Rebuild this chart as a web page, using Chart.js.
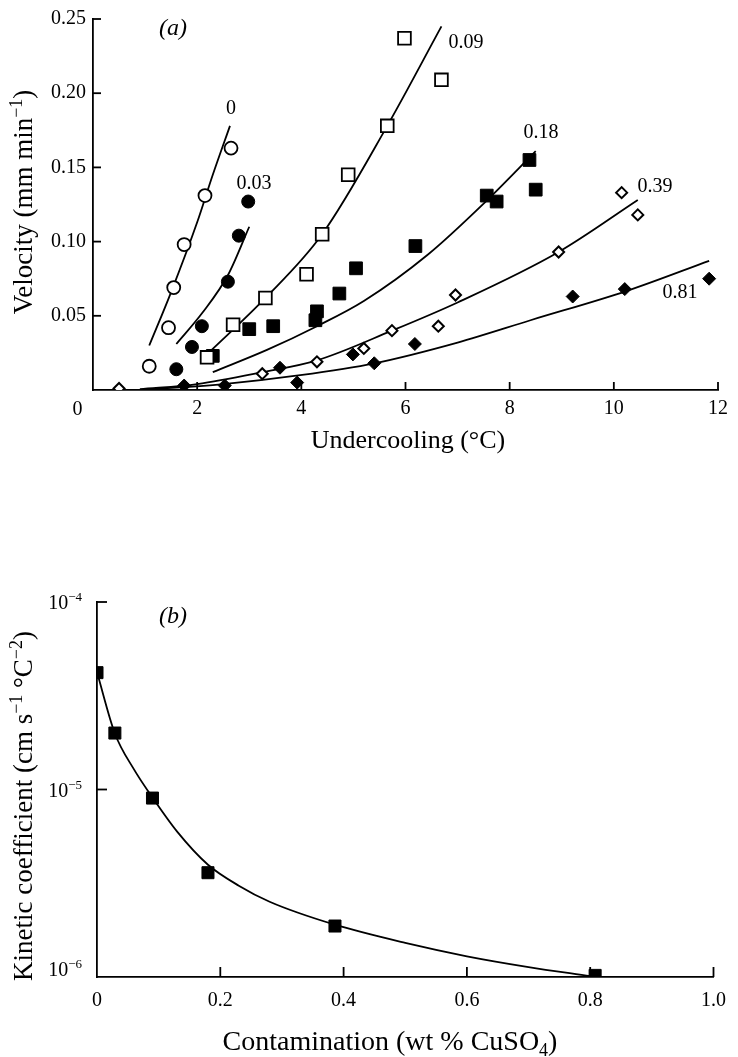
<!DOCTYPE html>
<html><head><meta charset="utf-8">
<script src="https://cdn.jsdelivr.net/npm/chart.js@4.4.1/dist/chart.umd.min.js"></script>
<style>
html,body{margin:0;padding:0;background:#fff;}
#wa{position:absolute;left:0;top:0;width:738px;height:460px;}
#wb{position:absolute;left:0;top:540px;width:738px;height:517px;}
</style></head><body>
<div id="wa"><canvas id="ca"></canvas></div>
<div id="wb"><canvas id="cb"></canvas></div>
<script>
const FONT = '"Liberation Serif", "Times New Roman", serif';

// ---------- Panel (a): velocity vs undercooling ----------
const undercoolingTicks = [0, 2, 4, 6, 8, 10, 12];
const velocityTicks = [0.05, 0.10, 0.15, 0.20, 0.25];
const seriesLabels = ['0', '0.03', '0.09', '0.18', '0.39', '0.81'];

// measured points
const c000x = [1.08, 1.45, 1.55, 1.75, 2.15, 2.65];
const c000y = [0.016, 0.042, 0.069, 0.098, 0.131, 0.163];
const c003x = [1.60, 1.90, 2.09, 2.59, 2.80, 2.98];
const c003y = [0.014, 0.029, 0.043, 0.073, 0.104, 0.127];
const c009x = [2.19, 2.69, 3.31, 4.10, 4.40, 4.90, 5.65, 5.98, 6.69];
const c009y = [0.022, 0.044, 0.062, 0.078, 0.105, 0.145, 0.178, 0.237, 0.209];
const c018x = [2.30, 3.00, 3.46, 4.27, 4.30, 4.73, 5.05, 6.19, 7.56, 7.75, 8.38, 8.50];
const c018y = [0.023, 0.041, 0.043, 0.047, 0.053, 0.065, 0.082, 0.097, 0.131, 0.127, 0.155, 0.135];
const c039x = [0.50, 3.25, 4.30, 5.20, 5.74, 6.63, 6.96, 8.94, 10.15, 10.46];
const c039y = [0.001, 0.011, 0.019, 0.028, 0.040, 0.043, 0.064, 0.093, 0.133, 0.118];
const c081x = [1.75, 2.53, 3.59, 3.92, 4.99, 5.40, 6.18, 9.21, 10.21, 11.83];
const c081y = [0.003, 0.003, 0.015, 0.005, 0.024, 0.018, 0.031, 0.063, 0.068, 0.075];

// fitted curves
const f000x = [1.08, 1.5, 2.0, 2.3, 2.63];
const f000y = [0.030, 0.066, 0.113, 0.145, 0.178];
const f003x = [1.6, 2.1, 2.6, 3.0];
const f003y = [0.031, 0.052, 0.078, 0.110];
const f009x = [2.19, 3.31, 4.4, 5.65, 6.69];
const f009y = [0.024, 0.062, 0.105, 0.178, 0.245];
const f018x = [2.3, 3.34, 4.3, 5.2, 6.42, 7.54, 8.5];
const f018y = [0.012, 0.027, 0.043, 0.060, 0.091, 0.127, 0.161];
const f039x = [0.9, 2.0, 3.25, 4.3, 5.74, 7.0, 8.94, 10.46];
const f039y = [0.0005, 0.004, 0.012, 0.020, 0.040, 0.059, 0.093, 0.128];
const f081x = [0.9, 2.5, 3.98, 5.4, 7.0, 8.4, 10.27, 11.83];
const f081y = [0.0, 0.004, 0.010, 0.018, 0.032, 0.047, 0.067, 0.087];

// curve label positions (data coords)
const labelX = [2.65, 3.09, 7.16, 8.60, 10.79, 11.27];
const labelY = [0.1893, 0.1387, 0.2343, 0.1733, 0.1367, 0.0653];

// ---------- Panel (b): kinetic coefficient vs contamination ----------
const contamTicks = [0, 0.2, 0.4, 0.6, 0.8, 1.0];
const kineticTicks = [1e-6, 1e-5, 1e-4];
const kineticTickExp = ['−6', '−5', '−4'];
const contam = [0.0, 0.029, 0.09, 0.18, 0.386, 0.808];
const kinetic = [4.2e-5, 2.0e-5, 9.0e-6, 3.6e-6, 1.87e-6, 1.02e-6];
const fitCx = [0, 0.029, 0.06, 0.09, 0.13, 0.18, 0.23, 0.28, 0.386, 0.5, 0.6, 0.7, 0.8];
const fitCy = [4.22e-5, 1.99e-5, 1.28e-5, 9.06e-6, 5.96e-6, 3.97e-6, 3.07e-6, 2.52e-6, 1.90e-6, 1.52e-6, 1.29e-6, 1.13e-6, 1.01e-6];

const pts = (xs, ys) => xs.map((x, i) => ({x, y: ys[i]}));

function drawRich(ctx, parts, x, y, size, rot, italic, align) {
  ctx.save();
  ctx.translate(x, y);
  if (rot) ctx.rotate(rot);
  const fontOf = k => (italic ? 'italic ' : '') + (k ? Math.round(size * 0.65) : size) + 'px ' + FONT;
  let total = 0; const ws = [];
  for (const [t, k] of parts) { ctx.font = fontOf(k); const w = ctx.measureText(t).width; ws.push(w); total += w; }
  let cx = align === 'right' ? -total : (align === 'left' ? 0 : -total / 2);
  ctx.textBaseline = 'alphabetic'; ctx.textAlign = 'left'; ctx.fillStyle = '#000';
  parts.forEach(([t, k], i) => {
    ctx.font = fontOf(k);
    const dy = k === 'sup' ? -size * 0.38 : (k === 'sub' ? size * 0.2 : 0);
    ctx.fillText(t, cx, dy);
    cx += ws[i];
  });
  ctx.restore();
}

const decor = {
  id: 'decor',
  afterDatasetsDraw(chart, args, opts) {
    const ctx = chart.ctx, xs = chart.scales.x, ys = chart.scales.y;
    ctx.save();
    ctx.strokeStyle = '#000'; ctx.lineWidth = 1.8;
    const b = chart.chartArea.bottom, l = chart.chartArea.left;
    (opts.xTickVals || []).forEach(v => {
      const p = xs.getPixelForValue(v);
      ctx.beginPath(); ctx.moveTo(p, b); ctx.lineTo(p, b - opts.len); ctx.stroke();
    });
    (opts.yTickVals || []).forEach(v => {
      const p = ys.getPixelForValue(v);
      ctx.beginPath(); ctx.moveTo(l, p); ctx.lineTo(l + opts.len, p); ctx.stroke();
    });
    ctx.restore();
    (opts.dataLabels || []).forEach(d => {
      ctx.save();
      ctx.font = d.size + 'px ' + FONT; ctx.fillStyle = '#000';
      ctx.textAlign = 'center'; ctx.textBaseline = 'middle';
      ctx.fillText(d.text, xs.getPixelForValue(d.x), ys.getPixelForValue(d.y));
      ctx.restore();
    });
    (opts.powerLabels || []).forEach(d => {
      let p = ys.getPixelForValue(d.value);
      if (p > b - 4) p -= 8; // keep the lowest label clear of the x axis
      drawRich(ctx, [['10', ''], [d.exp, 'sup']], l - 15, p + 7, 20, 0, false, 'right');
    });
    (opts.texts || []).forEach(t => drawRich(ctx, t.parts, t.x, t.y, t.size, t.rot || 0, t.italic, t.align));
  }
};

const axisBase = (extra) => Object.assign({
  grid: {display: true, drawOnChartArea: false, drawTicks: false},
  border: {display: true, color: '#000', width: 1.8},
}, extra);

const tickFont = {family: FONT, size: 20};

const openStyle = (style, r, bw) => ({pointStyle: style, pointRadius: r, pointHoverRadius: r, backgroundColor: '#fff', borderColor: '#000', pointBorderWidth: bw, showLine: false});
const fillStyle = (style, r) => ({pointStyle: style, pointRadius: r, pointHoverRadius: r, backgroundColor: '#000', borderColor: '#000', pointBorderWidth: 1, showLine: false});
const lineStyle = () => ({showLine: true, pointRadius: 0, borderColor: '#000', borderWidth: 1.8, cubicInterpolationMode: 'monotone', fill: false});

// ---------- chart (a) ----------
new Chart(document.getElementById('ca'), {
  type: 'scatter',
  data: {datasets: [
    Object.assign({label: '0 pts', data: pts(c000x, c000y)}, openStyle('circle', 6.5, 1.8)),
    Object.assign({label: '0.03 pts', data: pts(c003x, c003y)}, fillStyle('circle', 6.5)),
    Object.assign({label: '0.09 pts', data: pts(c009x, c009y)}, openStyle('rect', 9, 1.8)),
    Object.assign({label: '0.18 pts', data: pts(c018x, c018y)}, fillStyle('rect', 9)),
    Object.assign({label: '0.39 pts', data: pts(c039x, c039y)}, openStyle('rectRot', 5.5, 2)),
    Object.assign({label: '0.81 pts', data: pts(c081x, c081y)}, fillStyle('rectRot', 6.5)),
    Object.assign({label: '0 fit', data: pts(f000x, f000y)}, lineStyle()),
    Object.assign({label: '0.03 fit', data: pts(f003x, f003y)}, lineStyle()),
    Object.assign({label: '0.09 fit', data: pts(f009x, f009y)}, lineStyle()),
    Object.assign({label: '0.18 fit', data: pts(f018x, f018y)}, lineStyle()),
    Object.assign({label: '0.39 fit', data: pts(f039x, f039y)}, lineStyle()),
    Object.assign({label: '0.81 fit', data: pts(f081x, f081y)}, lineStyle()),
  ]},
  options: {
    responsive: true, maintainAspectRatio: false, animation: false,
    layout: {padding: {top: 15, right: 20, left: 0, bottom: 0}},
    plugins: {
      legend: {display: false}, tooltip: {enabled: false},
      decor: {
        len: 8,
        xTickVals: undercoolingTicks.slice(1),
        yTickVals: velocityTicks,
        dataLabels: seriesLabels.map((t, i) => ({text: t, x: labelX[i], y: labelY[i], size: 20})),
        texts: [
          {parts: [['0', '']], x: 77.5, y: 415, size: 20},
          {parts: [['Undercooling (°C)', '']], x: 408, y: 448, size: 26},
          {parts: [['Velocity (mm min', ''], ['−1', 'sup'], [')', '']], x: 32, y: 202, size: 27, rot: -Math.PI / 2},
          {parts: [['(', ''], ['a', ''], [')', '']], x: 173, y: 35, size: 24, italic: true},
        ]
      }
    },
    scales: {
      x: axisBase({type: 'linear', min: 0, max: 12,
        afterBuildTicks: s => { s.ticks = undercoolingTicks.map(v => ({value: v})); },
        ticks: {font: tickFont, color: '#000', padding: 7, maxRotation: 0, autoSkip: false,
          callback: v => v === 0 ? '' : String(v)},
        afterFit: s => { s.height = 70; }}),
      y: axisBase({type: 'linear', min: 0, max: 0.25,
        afterBuildTicks: s => { s.ticks = velocityTicks.map(v => ({value: v})); },
        ticks: {font: tickFont, color: '#000', padding: 7, autoSkip: false,
          callback: v => v.toFixed(2)},
        afterFit: s => { s.width = 93; }}),
    }
  },
  plugins: [decor]
});

// ---------- chart (b) ----------
new Chart(document.getElementById('cb'), {
  type: 'scatter',
  data: {datasets: [
    Object.assign({label: 'measured', data: pts(contam, kinetic)}, fillStyle('rect', 8.5)),
    Object.assign({label: 'fit', data: pts(fitCx, fitCy)}, lineStyle()),
  ]},
  options: {
    responsive: true, maintainAspectRatio: false, animation: false,
    layout: {padding: {top: 62, right: 16, left: 0, bottom: 0}},
    plugins: {
      legend: {display: false}, tooltip: {enabled: false},
      decor: {
        len: 10,
        xTickVals: contamTicks.slice(1),
        yTickVals: kineticTicks.slice(1),
        powerLabels: kineticTicks.map((v, i) => ({value: v, exp: kineticTickExp[i]})),
        texts: [
          {parts: [['Contamination (wt % CuSO', ''], ['4', 'sub'], [')', '']], x: 390, y: 510, size: 28},
          {parts: [['Kinetic coefficient (cm s', ''], ['−1', 'sup'], [' °C', ''], ['−2', 'sup'], [')', '']], x: 32, y: 266, size: 27, rot: -Math.PI / 2},
          {parts: [['(', ''], ['b', ''], [')', '']], x: 173, y: 83, size: 24, italic: true},
        ]
      }
    },
    scales: {
      x: axisBase({type: 'linear', min: 0, max: 1,
        afterBuildTicks: s => { s.ticks = contamTicks.map(v => ({value: v})); },
        ticks: {font: tickFont, color: '#000', padding: 12, maxRotation: 0, autoSkip: false,
          callback: v => v === 0 ? '0' : v.toFixed(1)},
        afterFit: s => { s.height = 80; }}),
      y: axisBase({type: 'logarithmic', min: 1e-6, max: 1e-4,
        afterBuildTicks: s => { s.ticks = kineticTicks.map(v => ({value: v})); },
        ticks: {font: tickFont, color: '#000', padding: 15, autoSkip: false,
          callback: () => ''},
        afterFit: s => { s.width = 97; }}),
    }
  },
  plugins: [decor]
});
</script>
</body></html>
